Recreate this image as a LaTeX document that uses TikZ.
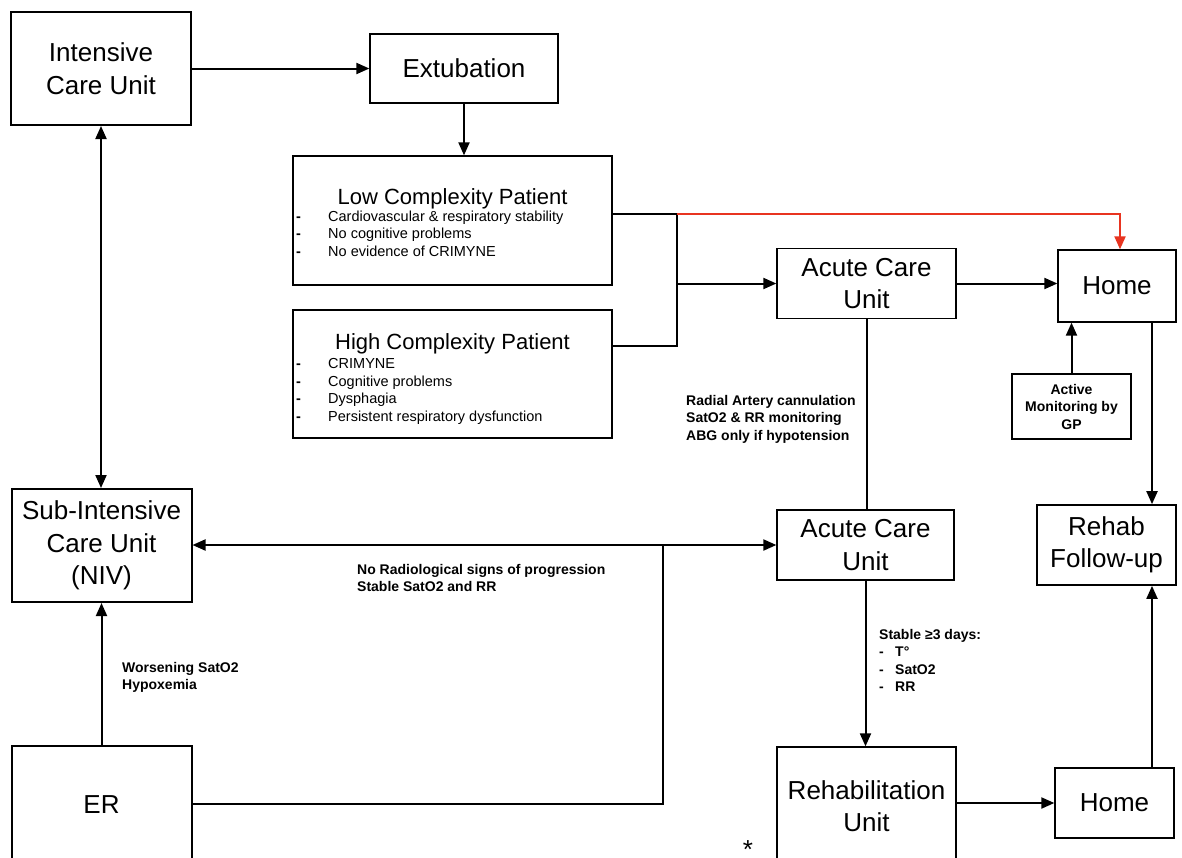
\documentclass[tikz,border=0pt]{standalone}
\usepackage{fontspec}
\setmainfont{Liberation Sans}
\usetikzlibrary{arrows.meta,calc}
\definecolor{redline}{RGB}{232,52,32}
\newcommand{\ttlfont}{\fontsize{26}{32.5}\selectfont}
\newcommand{\subttlfont}{\fontsize{22}{26}\selectfont}
\newcommand{\itmfont}{\fontsize{14.5}{17.5}\selectfont}
\newcommand{\lblfont}{\fontsize{14}{17.5}\selectfont\bfseries}
\newcommand{\dsh}[1]{\makebox[#1][l]{\textbf{-}}}
\begin{document}
\begin{tikzpicture}[x=1pt,y=-1pt,
  thickbox/.style={draw, line width=2pt, inner sep=0pt, align=center, font=\ttlfont},
  thinbox/.style={draw, line width=1.3pt, inner sep=0pt, align=center, font=\ttlfont},
  conn/.style={line width=2pt},
  arr/.style={conn, -{Triangle[length=13pt,width=11pt]}},
  darr/.style={conn, {Triangle[length=13pt,width=11pt]}-{Triangle[length=13pt,width=11pt]}},
  redarr/.style={line width=2pt, draw=redline, -{Triangle[length=13pt,width=11pt]}, redline},
  lbl/.style={inner sep=0pt, align=left, font=\lblfont, anchor=north west},
  itemlist/.style={inner sep=0pt, anchor=north west, font=\itmfont},
  boxtitle/.style={inner sep=0pt, anchor=base, font=\subttlfont}
]
\useasboundingbox (0,0) rectangle (1182,857);
\clip (0,0) rectangle (1182,857);
\fill[white] (0,0) rectangle (1182,857);

% boxes
\node[thickbox, minimum width=180pt, minimum height=113pt] (icu) at (101,68.5) {Intensive\\Care Unit};
\node[thinbox, minimum width=188pt, minimum height=69pt] (ext) at (464,68.5) {Extubation};
\node[thinbox, minimum width=319pt, minimum height=129pt] (low) at (452.5,220.5) {};
\node[thinbox, minimum width=319pt, minimum height=128pt] (high) at (452.5,374) {};
\node[thinbox, minimum width=179pt, minimum height=70pt] (ac1) at (866.5,283.5) {Acute Care\\Unit};
\node[thinbox, minimum width=118pt, minimum height=72pt] (home1) at (1117,286) {Home};
\node[thinbox, minimum width=119pt, minimum height=65pt, font=\lblfont] (gp) at (1071.5,406.5) {Active\\Monitoring by\\GP};
\node[draw, line width=1.7pt, inner sep=0pt, align=center, font=\ttlfont, minimum width=139pt, minimum height=80pt] (rfu) at (1106.5,545) {Rehab\\Follow-up};
\node[thickbox, minimum width=180pt, minimum height=113pt] (sicu) at (101.5,545.5) {Sub-Intensive\\Care Unit\\(NIV)};
\node[thinbox, minimum width=177pt, minimum height=70pt] (ac2) at (865.5,545) {Acute Care\\Unit};
\node[thickbox, minimum width=180pt, minimum height=118pt] (er) at (101.5,805) {ER};
\node[thinbox, minimum width=179pt, minimum height=118pt] (ru) at (866.5,806) {Rehabilitation\\Unit};
\node[thinbox, minimum width=119pt, minimum height=70pt] (home2) at (1114.5,803) {Home};

% box contents
\node[boxtitle] (lowt) at (452.5,204) {Low Complexity Patient};
\node[itemlist] (lowl) at (296,208.75) {\begin{tabular}{@{}l@{}}
\dsh{32pt}Cardiovascular \& respiratory stability\\
\dsh{32pt}No cognitive problems\\
\dsh{32pt}No evidence of CRIMYNE
\end{tabular}};
\node[boxtitle] (hight) at (452.5,349) {High Complexity Patient};
\node[itemlist] (highl) at (296,356.5) {\begin{tabular}{@{}l@{}}
\dsh{32pt}CRIMYNE\\
\dsh{32pt}Cognitive problems\\
\dsh{32pt}Dysphagia\\
\dsh{32pt}Persistent respiratory dysfunction
\end{tabular}};

% junctions
\coordinate (j1) at (677,214);
\coordinate (j2) at (677,346);
\coordinate (j3) at (663,804);
\coordinate (j4) at (663,545);

% connectors
\draw[arr] (icu) -- (ext);
\draw[arr] (ext.south) -- (ext.south |- low.north);
\draw[conn] (j1 -| low.east) -- (j1);
\draw[conn] (j2 -| high.east) -- (j2) -- (j1);
\draw[redarr] (j1) -| ([xshift=3pt]home1.north);
\draw[arr] (j1 |- ac1) -- (ac1.west);
\draw[arr] (ac1.east) -- (ac1.east -| home1.west);
\draw[arr] (gp.north) -- (gp.north |- home1.south);
\draw[arr] ([xshift=35pt]home1.south) -- ([xshift=35pt]home1.south |- rfu.north);
\draw[conn] (ac1.south) -- (ac1.south |- ac2.north);
\draw[darr] (icu.south) -- (icu.south |- sicu.north);
\draw[darr] (sicu.east |- ac2) -- (ac2.west);
\draw[conn] (j3 -| er.east) -- (j3) -- (j4);
\draw[arr] (er.north) -- (er.north |- sicu.south);
\draw[arr] (ac2.south) -- (ac2.south |- ru.north);
\draw[arr] (ru.east |- home2) -- (home2.west);
\draw[arr] ([xshift=37.5pt]home2.north) -- ([xshift=37.5pt]home2.north |- rfu.south);

% labels
\node[lbl] (radial) at (686,395) {Radial Artery cannulation\\SatO2 \& RR monitoring\\ABG only if hypotension};
\node[lbl] (radio) at (357,564) {No Radiological signs of progression\\Stable SatO2 and RR};
\node[lbl] (worse) at (122,662) {Worsening SatO2\\Hypoxemia};
\node[lbl] (stable) at (879,629) {Stable ≥3 days:\\\dsh{16pt}T°\\\dsh{16pt}SatO2\\\dsh{16pt}RR};
\node[anchor=south, inner sep=0pt, font=\fontsize{26}{26}\selectfont] (ast) at (748,856) {\raisebox{-3pt}[15pt][0pt]{*}};
\end{tikzpicture}
\end{document}
